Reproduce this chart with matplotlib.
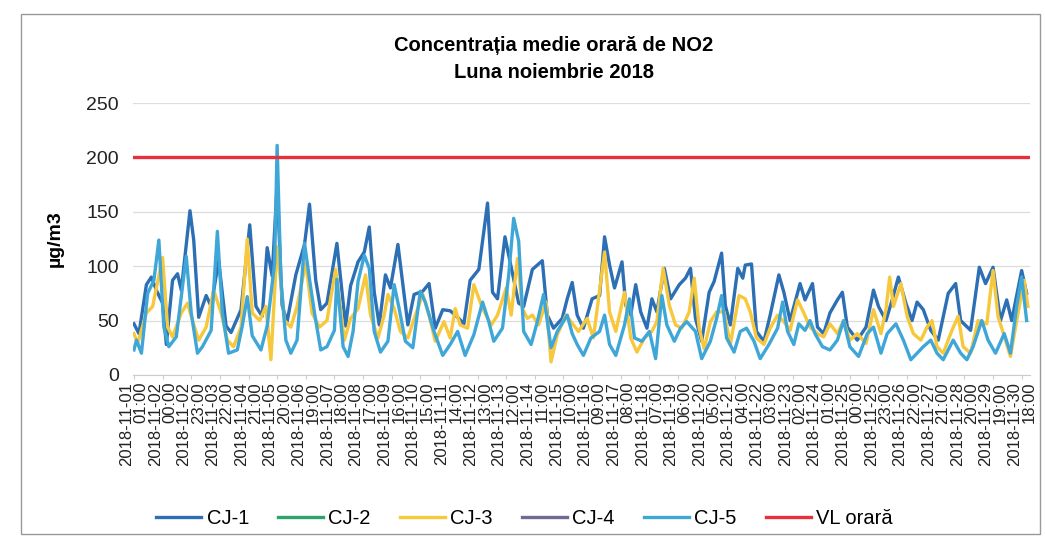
import matplotlib
matplotlib.use("Agg")
import matplotlib.pyplot as plt
from matplotlib.patches import Rectangle
from datetime import datetime, timedelta

plt.rcParams['font.family'] = ['Liberation Sans', 'DejaVu Sans']

title = "Concentrația medie orară de NO2\nLuna noiembrie 2018"
ylabel = "µg/m3"
vl_label = "VL orară"
vl_value = 200
start = datetime(2018, 11, 1, 1)
n_hours = 720
tick_step = 23

# hour index (0 = 2018-11-01 01:00) and values
cj1_hours = [0, 4, 10, 14, 18, 23, 26, 31, 35, 38, 45, 48, 52, 58, 62, 68, 74, 78, 86, 93, 98, 103, 107, 111, 115, 119, 123, 130, 137, 141, 146, 150, 155, 163, 170,
             174, 180, 185, 189, 193, 197, 202, 206, 212, 216, 220, 225, 232, 237, 242, 248, 254, 260, 265, 270, 277, 284, 288, 292, 298, 301, 309, 313, 320, 328, 332, 337, 344, 348, 352, 356,
             361, 368, 374, 378, 382, 386, 392, 395, 399, 403, 407, 412, 416, 420, 426, 431, 438, 443, 447, 451, 456, 462, 466, 472, 475, 479, 485, 489, 491, 496, 500, 506, 511, 518, 522,
             527, 535, 539, 545, 549, 554, 559, 565, 569, 573, 581, 588, 594, 598, 604, 609, 614, 620, 625, 629, 634, 640, 646, 654, 660, 664, 672, 679, 684, 690, 696, 701, 705, 713, 717]
cj1_vals = [47, 38, 83, 90, 78, 66, 28, 87, 93, 78, 151, 124, 53, 73, 63, 105, 45, 39, 60, 138, 63, 54, 117, 91, 175, 64, 49, 92, 120, 157, 87, 60, 66, 121, 45,
            82, 104, 113, 136, 76, 46, 92, 80, 120, 83, 46, 74, 77, 84, 43, 60, 59, 53, 47, 87, 97, 158, 76, 70, 127, 110, 66, 63, 97, 105, 55, 43, 52, 70, 85, 55,
            43, 70, 73, 127, 101, 80, 104, 64, 55, 83, 58, 43, 70, 58, 98, 70, 83, 89, 98, 52, 31, 76, 86, 112, 64, 46, 98, 89, 101, 102, 40, 31, 55, 92, 76,
            50, 84, 69, 84, 44, 38, 57, 69, 76, 44, 32, 44, 78, 63, 50, 69, 90, 66, 50, 67, 60, 41, 32, 75, 84, 50, 41, 99, 84, 99, 50, 69, 50, 96, 75]

cj3_hours = [0, 3, 10, 15, 23, 27, 31, 38, 43, 47, 52, 58, 64, 70, 75, 80, 86, 91, 95, 101, 106, 110, 115, 121, 126, 131, 138, 143, 149, 155, 162, 169,
             174, 180, 186, 190, 196, 201, 204, 209, 214, 220, 226, 232, 237, 242, 249, 254, 258, 262, 268, 273, 280, 287, 292, 299, 303, 308, 312, 316, 320, 325, 331, 335, 340, 347,
             351, 357, 364, 369, 378, 382, 387, 394, 399, 404, 410, 416, 420, 425, 430, 435, 440, 446, 450, 454, 458, 463, 468, 474, 479, 486, 491, 495, 500, 506, 511, 517, 522,
             527, 533, 538, 543, 549, 554, 559, 565, 570, 575, 581, 588, 594, 600, 604, 607, 610, 616, 621, 626, 632, 637, 641, 645, 650, 657, 662, 666, 672, 678, 685, 690, 694, 700, 704, 709, 715, 718]
cj3_vals = [38, 29, 57, 63, 108, 44, 35, 57, 66, 50, 32, 44, 78, 57, 32, 26, 44, 125, 57, 50, 63, 14, 118, 50, 44, 63, 103, 57, 44, 50, 97, 32,
            52, 61, 92, 55, 34, 55, 74, 61, 40, 34, 55, 74, 55, 31, 49, 34, 61, 46, 43, 83, 61, 46, 55, 80, 55, 107, 61, 52, 55, 46, 67, 12, 37, 55,
            49, 40, 52, 34, 113, 58, 40, 76, 34, 21, 34, 40, 49, 98, 64, 46, 43, 58, 89, 43, 24, 49, 58, 58, 28, 73, 70, 58, 34, 28, 43, 55, 49,
            41, 69, 57, 44, 38, 35, 47, 38, 50, 32, 38, 29, 60, 38, 60, 90, 63, 84, 54, 38, 32, 44, 50, 26, 20, 41, 54, 26, 20, 50, 47, 96, 54, 32, 17, 50, 87, 63]

cj5_hours = [0, 2, 6, 11, 16, 20, 24, 28, 34, 38, 42, 46, 51, 55, 62, 67, 71, 76, 83, 87, 91, 95, 102, 107, 113, 115, 118, 122, 126, 131, 137, 141, 145, 150, 155, 161, 163, 168, 172,
             176, 180, 185, 189, 193, 198, 204, 209, 213, 218, 224, 230, 234, 241, 248, 254, 260, 266, 273, 280, 285, 289, 296, 301, 305, 309, 313, 319, 324, 329, 335, 340, 348,
             352, 356, 361, 367, 374, 378, 382, 387, 394, 398, 402, 408, 414, 419, 424, 428, 434, 439, 444, 451, 456, 463, 468, 472, 476, 482, 487, 492, 498, 503, 510, 517, 521, 525,
             530, 534, 539, 543, 547, 553, 559, 565, 570, 575, 582, 589, 594, 600, 605, 612, 618, 624, 634, 640, 645, 650, 658, 664, 669, 674, 681, 686, 692, 699, 704, 709, 713, 717]
cj5_vals = [23, 32, 20, 75, 87, 124, 44, 26, 35, 72, 109, 57, 20, 26, 41, 132, 57, 20, 23, 45, 72, 36, 23, 45, 103, 211, 88, 32, 20, 32, 121, 88, 57, 23, 26, 41, 88, 26, 17,
            40, 86, 110, 98, 40, 21, 31, 83, 61, 31, 25, 77, 67, 40, 18, 28, 40, 18, 37, 67, 49, 31, 43, 92, 144, 123, 40, 28, 49, 74, 25, 40, 55,
            38, 28, 18, 34, 40, 55, 28, 18, 46, 70, 34, 31, 40, 15, 73, 46, 31, 43, 49, 40, 15, 31, 52, 73, 34, 21, 40, 43, 31, 15, 28, 43, 67, 40,
            28, 47, 41, 50, 38, 26, 23, 32, 50, 26, 17, 38, 44, 20, 38, 47, 32, 14, 26, 32, 20, 14, 32, 20, 14, 26, 50, 32, 20, 38, 20, 63, 90, 50]

names = ["CJ-1", "CJ-2", "CJ-3", "CJ-4", "CJ-5"]
colors = ["#2c6fb4", "#2ea36b", "#f7c73c", "#6f6a92", "#3fa6d8"]
vl_color = "#e8303c"

fig = plt.figure(figsize=(10.45, 5.45), dpi=100)
ax = fig.add_axes([0.127, 0.312, 0.859, 0.499])

lw = 2.4
ax.plot(cj1_hours, cj1_vals, color=colors[0], lw=lw, label=names[0], zorder=3)
ax.plot([], [], color=colors[1], lw=lw, label=names[1])
ax.plot(cj3_hours, cj3_vals, color=colors[2], lw=lw, label=names[2], zorder=4)
ax.plot([], [], color=colors[3], lw=lw, label=names[3])
ax.plot(cj5_hours, cj5_vals, color=colors[4], lw=lw, label=names[4], zorder=5)
ax.plot([0, n_hours - 1], [vl_value, vl_value], color=vl_color, lw=2.4, label=vl_label, zorder=6)

ax.set_xlim(-1, n_hours)
ax.set_ylim(0, 250)
ax.set_yticks(range(0, 251, 50))
ax.grid(axis='y', color='#dddddd', lw=0.9)
ax.set_axisbelow(True)
for s in ['top', 'right', 'left']:
    ax.spines[s].set_visible(False)
ax.spines['bottom'].set_color('#cccccc')
ax.tick_params(axis='y', length=0, labelsize=14, colors='#222222', pad=10)

tick_pos = list(range(0, n_hours, tick_step))
tick_lab = []
for p in tick_pos:
    d = start + timedelta(hours=p)
    tick_lab.append(d.strftime("%Y-%m-%d") + "\n" + d.strftime("%H:%M"))
ax.set_xticks(tick_pos)
ax.set_xticklabels(tick_lab, rotation=90, fontsize=12, color='#222222',
                   multialignment='right', linespacing=0.95)
ax.tick_params(axis='x', length=3, color='#cccccc', pad=2)

ax.set_ylabel(ylabel, fontsize=14, fontweight='bold', labelpad=16)
fig.text(0.53, 0.892, title, ha='center', va='center', fontsize=14.5,
         fontweight='bold', linespacing=1.5)

fig.legend(loc='center', bbox_to_anchor=(0.502, 0.048), ncol=6, frameon=False,
           fontsize=14.5, handlelength=2.25, columnspacing=1.45, handletextpad=0.25)

fig.patches.append(Rectangle((0.02, 0.02), 0.975, 0.955, transform=fig.transFigure,
                             fill=False, edgecolor='#999999', lw=1.0))

fig.savefig("out.png", dpi=100)
